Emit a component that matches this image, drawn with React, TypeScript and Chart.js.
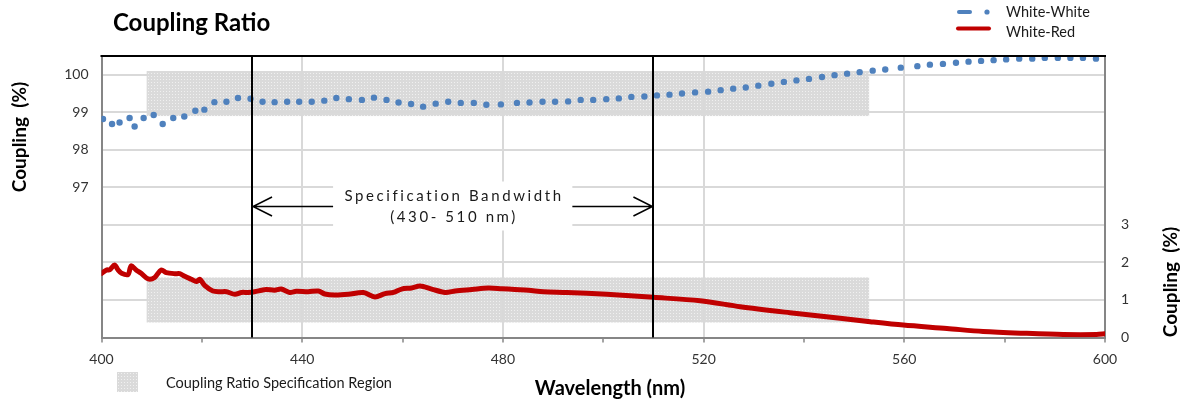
import React, { useEffect, useRef } from "react";
import { Chart, registerables } from "chart.js";

Chart.register(...registerables);

// ---- data ----
const wwWavelength = [
  400.3, 402.1, 403.6, 405.6, 406.6, 408.4, 410.4, 412.2, 414.3, 416.5,
  418.7, 420.5, 422.5, 424.9, 427.2, 429.7, 432.1, 434.5, 437.0, 439.4,
  441.9, 444.4, 446.8, 449.3, 451.9, 454.3, 456.8, 459.2, 461.7, 464.1,
  466.6, 469.1, 471.6, 474.2, 476.7, 479.6, 482.8, 485.3, 487.9, 490.4,
  493.0, 495.5, 498.0, 500.6, 503.1, 505.6, 508.2, 510.7, 513.2, 515.7,
  518.3, 520.9, 523.4, 525.9, 528.4, 530.9, 533.5, 536.0, 538.5, 541.0,
  543.6, 546.1, 548.6, 551.1, 553.7, 556.2, 559.3, 562.6, 565.1, 567.7,
  570.3, 572.8, 575.3, 577.8, 580.3, 582.9, 585.5, 588.0, 590.6, 593.1,
  595.6, 598.2,
];
const wwCoupling = [
  98.82, 98.69, 98.73, 98.85, 98.62, 98.85, 98.93, 98.69, 98.85, 98.89,
  99.04, 99.07, 99.27, 99.28, 99.38, 99.36, 99.28, 99.27, 99.28, 99.28,
  99.28, 99.31, 99.38, 99.35, 99.33, 99.39, 99.33, 99.26, 99.22, 99.15,
  99.23, 99.28, 99.25, 99.25, 99.2, 99.21, 99.25, 99.26, 99.28, 99.28,
  99.29, 99.33, 99.33, 99.35, 99.37, 99.41, 99.42, 99.45, 99.47, 99.5,
  99.53, 99.55, 99.59, 99.63, 99.66, 99.71, 99.76, 99.81, 99.85, 99.89,
  99.94, 99.99, 100.03, 100.07, 100.11, 100.14, 100.19, 100.23, 100.27, 100.29,
  100.32, 100.35, 100.37, 100.39, 100.41, 100.43, 100.43, 100.45, 100.45, 100.45,
  100.45, 100.43,
];
const wrWavelength = [
  400.0, 401.0, 401.6, 402.6, 403.3, 404.0, 405.3, 405.9, 406.9, 407.9,
  409.3, 410.6, 411.9, 412.9, 414.6, 415.6, 416.6, 417.9, 418.9, 419.6,
  420.6, 422.2, 423.6, 424.9, 426.6, 427.9, 429.2, 430.5, 431.9, 432.8,
  434.5, 435.8, 437.5, 438.8, 441.2, 443.2, 444.5, 446.5, 449.2, 452.2,
  454.5, 456.5, 458.2, 459.8, 461.8, 463.5, 465.8, 468.5, 470.5, 473.8,
  477.1, 479.8, 482.4, 485.1, 488.1, 492.7, 500.7, 510.0, 519.3, 527.3,
  537.2, 547.2, 553.2, 559.8, 568.5, 575.7, 584.4, 591.7, 598.3, 600.0,
];
const wrCoupling = [
  1.71, 1.8, 1.8, 1.93, 1.8, 1.71, 1.68, 1.91, 1.8, 1.71,
  1.56, 1.6, 1.8, 1.73, 1.7, 1.7, 1.63, 1.55, 1.49, 1.55,
  1.38, 1.24, 1.22, 1.22, 1.15, 1.2, 1.2, 1.22, 1.26, 1.28,
  1.26, 1.29, 1.2, 1.23, 1.22, 1.24, 1.16, 1.13, 1.15, 1.2,
  1.08, 1.17, 1.2, 1.29, 1.32, 1.37, 1.29, 1.2, 1.24, 1.28,
  1.32, 1.3, 1.28, 1.26, 1.22, 1.2, 1.15, 1.07, 0.98, 0.82,
  0.66, 0.51, 0.42, 0.33, 0.24, 0.16, 0.11, 0.08, 0.08, 0.1,
];

const xTicks = [400, 420, 440, 460, 480, 500, 520, 540, 560, 580, 600];
const xLabels = [400, 440, 480, 520, 560, 600];
const xGridAt = [440, 480, 520, 560];
const leftTicks = [93, 94, 95, 96, 97, 98, 99, 100];
const leftLabels = [97, 98, 99, 100];
const rightTicks = [0, 1, 2, 3, 4, 5, 6, 7];
const rightLabels = [0, 1, 2, 3];

const specRegionX = [409, 553];
const specRegionWW = [98.9, 100.1];
const specRegionWR = [0.4, 1.6];
const bandwidth = [430, 510];
const bandwidthArrowLevel = 3.5;
const annotationLines = ["Specification Bandwidth", "(430- 510 nm)"];

const chartTitle = "Coupling Ratio";
const xTitle = "Wavelength (nm)";
const yTitle = "Coupling  (%)";
const y2Title = "Coupling  (%)";
const seriesNames = ["White-White", "White-Red"];
const regionLegend = "Coupling Ratio Specification Region";

const FONT = 'Lato, "Open Sans", "DejaVu Sans", sans-serif';
const BLUE = "#4f81bd";
const RED = "#c00000";
const GRID = "#d9d9d9";
const AXIS = "#868686";

export default function App() {
  const ref = useRef<HTMLCanvasElement>(null);

  useEffect(() => {
    const canvas = ref.current!;
    const tile = document.createElement("canvas");
    tile.width = 3;
    tile.height = 3;
    const tc = tile.getContext("2d")!;
    tc.fillStyle = "#dadada";
    tc.fillRect(0, 0, 3, 3);
    tc.fillStyle = "#f0f0f0";
    tc.fillRect(1, 1, 1, 1);
    const pattern = canvas.getContext("2d")!.createPattern(tile, "repeat")!;

    const decor = {
      id: "decor",
      beforeDraw(chart: any) {
        const { ctx, scales } = chart;
        const { x, y, y2 } = scales;
        ctx.save();
        ctx.fillStyle = pattern;
        const x0 = x.getPixelForValue(specRegionX[0]);
        const x1 = x.getPixelForValue(specRegionX[1]);
        const a0 = y.getPixelForValue(specRegionWW[1]);
        const a1 = y.getPixelForValue(specRegionWW[0]);
        ctx.fillRect(x0, a0, x1 - x0, a1 - a0);
        const b0 = y2.getPixelForValue(specRegionWR[1]);
        const b1 = y2.getPixelForValue(specRegionWR[0]);
        ctx.fillRect(x0, b0, x1 - x0, b1 - b0);
        ctx.restore();
      },
      afterDatasetsDraw(chart: any) {
        const { ctx, chartArea, scales } = chart;
        const { x, y2 } = scales;
        ctx.save();
        ctx.strokeStyle = "#000";
        ctx.lineWidth = 2;
        for (const b of bandwidth) {
          const px = Math.round(x.getPixelForValue(b));
          ctx.beginPath();
          ctx.moveTo(px, chartArea.top);
          ctx.lineTo(px, chartArea.bottom);
          ctx.stroke();
        }
        ctx.beginPath();
        ctx.moveTo(chartArea.left - 1, chartArea.top);
        ctx.lineTo(chartArea.right + 1, chartArea.top);
        ctx.stroke();

        const xl = x.getPixelForValue(bandwidth[0]);
        const xr = x.getPixelForValue(bandwidth[1]);
        const cx = (xl + xr) / 2;
        const ay = Math.round(y2.getPixelForValue(bandwidthArrowLevel)) + 0.5;
        ctx.font = `15px ${FONT}`;
        (ctx as any).letterSpacing = "2.6px";
        const w = Math.max(...annotationLines.map((l) => ctx.measureText(l).width));
        const bw = w + 20;
        const bx = cx - bw / 2;
        ctx.fillStyle = "#fff";
        ctx.fillRect(bx, ay - 25, bw, 49);
        ctx.strokeStyle = "#000";
        ctx.lineWidth = 1.5;
        ctx.beginPath();
        ctx.moveTo(xl, ay);
        ctx.lineTo(bx, ay);
        ctx.moveTo(bx + bw, ay);
        ctx.lineTo(xr, ay);
        ctx.moveTo(xl + 20, ay - 9.5);
        ctx.lineTo(xl + 1, ay);
        ctx.lineTo(xl + 20, ay + 9.5);
        ctx.moveTo(xr - 20, ay - 9.5);
        ctx.lineTo(xr - 1, ay);
        ctx.lineTo(xr - 20, ay + 9.5);
        ctx.stroke();
        ctx.fillStyle = "#1a1a1a";
        ctx.textAlign = "center";
        ctx.textBaseline = "middle";
        ctx.fillText(annotationLines[0], cx + 1.3, ay - 10);
        ctx.fillText(annotationLines[1], cx + 1.3, ay + 11);
        ctx.restore();
      },
      afterDraw(chart: any) {
        const { ctx, chartArea } = chart;
        ctx.save();
        ctx.fillStyle = "#000";
        ctx.textBaseline = "alphabetic";
        ctx.textAlign = "left";
        ctx.font = `bold 24px ${FONT}`;
        ctx.fillText(chartTitle, 113, 31);

        ctx.font = `bold 20px ${FONT}`;
        ctx.textAlign = "center";
        ctx.fillText(xTitle, 610, 395);

        ctx.font = `bold 19px ${FONT}`;
        ctx.textBaseline = "middle";
        ctx.save();
        ctx.translate(20, 137);
        ctx.rotate(-Math.PI / 2);
        ctx.fillText(yTitle, 0, 0);
        ctx.restore();
        ctx.save();
        ctx.translate(1171, 282);
        ctx.rotate(-Math.PI / 2);
        ctx.fillText(y2Title, 0, 0);
        ctx.restore();

        ctx.lineCap = "round";
        ctx.strokeStyle = BLUE;
        ctx.lineWidth = 4;
        ctx.beginPath();
        ctx.moveTo(959, 12);
        ctx.lineTo(970, 12);
        ctx.stroke();
        ctx.fillStyle = BLUE;
        ctx.beginPath();
        ctx.arc(987, 12, 2.6, 0, Math.PI * 2);
        ctx.fill();
        ctx.strokeStyle = RED;
        ctx.lineWidth = 4;
        ctx.beginPath();
        ctx.moveTo(958, 28.5);
        ctx.lineTo(989, 28.5);
        ctx.stroke();
        ctx.fillStyle = "#1a1a1a";
        ctx.font = `14.5px ${FONT}`;
        ctx.textAlign = "left";
        ctx.fillText(seriesNames[0], 1006, 12.5);
        ctx.fillText(seriesNames[1], 1006, 32);

        ctx.fillStyle = pattern;
        ctx.fillRect(117, 372, 21, 20);
        ctx.fillStyle = "#1a1a1a";
        ctx.font = `14.5px ${FONT}`;
        ctx.fillText(regionLegend, 166, 383);
        ctx.restore();
      },
    };

    const tickFont = { family: FONT, size: 14 };
    const chart = new Chart(canvas, {
      type: "line",
      data: {
        datasets: [
          {
            label: seriesNames[0],
            data: wwWavelength.map((v, i) => ({ x: v, y: wwCoupling[i] })),
            yAxisID: "y",
            showLine: false,
            pointRadius: 3.2,
            pointBorderWidth: 0,
            pointBackgroundColor: BLUE,
            borderColor: BLUE,
          },
          {
            label: seriesNames[1],
            data: wrWavelength.map((v, i) => ({ x: v, y: wrCoupling[i] })),
            yAxisID: "y2",
            borderColor: RED,
            borderWidth: 5,
            pointRadius: 0,
            tension: 0.3,
            borderJoinStyle: "round",
            borderCapStyle: "round",
          },
        ],
      },
      options: {
        responsive: false,
        animation: false,
        layout: { padding: { top: 56, left: 0, right: 0, bottom: 0 } },
        plugins: { legend: { display: false }, tooltip: { enabled: false } },
        scales: {
          x: {
            type: "linear",
            min: 400,
            max: 600,
            afterBuildTicks: (s: any) => {
              s.ticks = xTicks.map((v) => ({ value: v }));
            },
            afterFit: (s: any) => {
              s.height = 404 - 337.5;
            },
            ticks: {
              autoSkip: false,
              maxRotation: 0,
              padding: 9,
              color: "#333",
              font: tickFont,
              callback: (v: any) => (xLabels.includes(Number(v)) ? String(v) : ""),
            },
            grid: {
              color: (c: any) => (c.tick && xGridAt.includes(c.tick.value) ? GRID : "rgba(0,0,0,0)"),
              lineWidth: 2,
              tickColor: AXIS,
              tickLength: 5,
              tickWidth: 1.5,
            },
            border: { color: AXIS, width: 2 },
          },
          y: {
            type: "linear",
            position: "left",
            min: 93,
            max: 100.5,
            afterBuildTicks: (s: any) => {
              s.ticks = leftTicks.map((v) => ({ value: v }));
            },
            afterFit: (s: any) => {
              s.width = 101.5;
            },
            ticks: {
              padding: 13,
              color: "#333",
              font: tickFont,
              callback: (v: any) => (leftLabels.includes(Number(v)) ? String(v) : ""),
            },
            grid: { color: GRID, lineWidth: 2, drawTicks: false },
            border: { color: AXIS, width: 2 },
          },
          y2: {
            type: "linear",
            position: "right",
            min: 0,
            max: 7.5,
            afterBuildTicks: (s: any) => {
              s.ticks = rightTicks.map((v) => ({ value: v }));
            },
            afterFit: (s: any) => {
              s.width = 1181 - 1105;
            },
            ticks: {
              padding: 16,
              color: "#333",
              font: tickFont,
              callback: (v: any) => (rightLabels.includes(Number(v)) ? String(v) : ""),
            },
            grid: { drawOnChartArea: false, drawTicks: false },
            border: { color: AXIS, width: 2 },
          },
        },
      },
      plugins: [decor],
    } as any);

    return () => chart.destroy();
  }, []);

  return (
    <div style={{ position: "absolute", left: 0, top: 0, width: 1181, height: 404 }}>
      <canvas ref={ref} width={1181} height={404} style={{ display: "block" }} />
    </div>
  );
}
